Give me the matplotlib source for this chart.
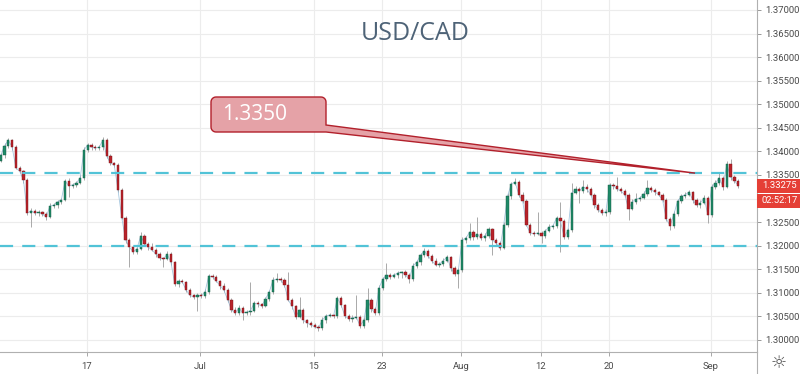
import numpy as np
import matplotlib
matplotlib.use('Agg')
import matplotlib.pyplot as plt
from matplotlib.patches import Polygon, Rectangle
from matplotlib.lines import Line2D
from matplotlib.transforms import Affine2D

# USD/CAD, 8h candles (Jun 5 - Sep 4 2019)
closes = [
    1.3392, 1.3412, 1.3424, 1.3409, 1.3365, 1.3358, 1.3339, 1.3269, 1.3274, 1.3269,
    1.3271, 1.3267, 1.3261, 1.3284, 1.3286, 1.3293, 1.3297, 1.3337, 1.3327, 1.3329,
    1.3333, 1.3344, 1.3403, 1.3414, 1.3409, 1.3407, 1.3409, 1.3424, 1.3390, 1.3375,
    1.3371, 1.3318, 1.3259, 1.3212, 1.3197, 1.3187, 1.3193, 1.3221, 1.3204, 1.3197,
    1.3191, 1.3182, 1.3174, 1.3172, 1.3182, 1.3165, 1.3119, 1.3125, 1.3123, 1.3106,
    1.3095, 1.3091, 1.3095, 1.3093, 1.3102, 1.3136, 1.3134, 1.3125, 1.3115, 1.3106,
    1.3085, 1.3064, 1.3057, 1.3068, 1.3057, 1.3059, 1.3062, 1.3078, 1.3076, 1.3072,
    1.3087, 1.3102, 1.3127, 1.3129, 1.3127, 1.3117, 1.3085, 1.3072, 1.3049, 1.3064,
    1.3042, 1.3036, 1.3032, 1.3028, 1.3025, 1.3042, 1.3051, 1.3053, 1.3051, 1.3089,
    1.3074, 1.3051, 1.3045, 1.3047, 1.3049, 1.3030, 1.3042, 1.3085, 1.3066, 1.3057,
    1.3110, 1.3129, 1.3138, 1.3134, 1.3138, 1.3142, 1.3144, 1.3138, 1.3129, 1.3157,
    1.3165, 1.3180, 1.3189, 1.3178, 1.3168, 1.3159, 1.3161, 1.3168, 1.3176, 1.3153,
    1.3140, 1.3148, 1.3212, 1.3216, 1.3229, 1.3218, 1.3225, 1.3216, 1.3221, 1.3235,
    1.3212, 1.3206, 1.3195, 1.3244, 1.3305, 1.3331, 1.3335, 1.3308, 1.3295, 1.3244,
    1.3227, 1.3225, 1.3227, 1.3221, 1.3231, 1.3240, 1.3242, 1.3259, 1.3252, 1.3218,
    1.3233, 1.3312, 1.3320, 1.3316, 1.3325, 1.3320, 1.3308, 1.3286, 1.3276, 1.3269,
    1.3272, 1.3329, 1.3327, 1.3320, 1.3316, 1.3308, 1.3278, 1.3293, 1.3299, 1.3301,
    1.3310, 1.3322, 1.3318, 1.3314, 1.3308, 1.3297, 1.3257, 1.3242, 1.3267, 1.3295,
    1.3305, 1.3308, 1.3314, 1.3297, 1.3286, 1.3291, 1.3301, 1.3265, 1.3325, 1.3333,
    1.3344, 1.3325, 1.3373, 1.3345, 1.3338, 1.33275,
]
first_open = 1.3380

# wick length above / below the body, in pips
up_pips = [
    4, 6, 5, 3, 4, 5, 3, 4, 6, 3,
    4, 3, 5, 6, 4, 3, 5, 4, 6, 3,
    4, 5, 6, 4, 3, 5, 4, 7, 5, 4,
    3, 4, 5, 3, 4, 3, 5, 8, 4, 3,
    8, 4, 5, 3, 6, 4, 3, 5, 4, 3,
    4, 3, 5, 4, 6, 5, 3, 4, 3, 5,
    4, 3, 5, 6, 4, 5, 60, 5, 4, 3,
    5, 4, 6, 13, 4, 5, 27, 4, 3, 27,
    4, 3, 5, 4, 3, 6, 4, 5, 3, 4,
    5, 3, 4, 5, 46, 4, 6, 25, 4, 5,
    6, 4, 25, 5, 4, 5, 3, 4, 5, 6,
    4, 5, 6, 3, 4, 5, 4, 6, 5, 3,
    4, 5, 6, 4, 19, 5, 36, 4, 6, 5,
    3, 4, 5, 6, 7, 5, 9, 4, 5, 3,
    4, 5, 45, 4, 5, 6, 4, 5, 34, 4,
    5, 21, 6, 4, 14, 5, 4, 3, 5, 4,
    6, 5, 4, 19, 5, 4, 3, 5, 13, 4,
    6, 17, 4, 5, 3, 4, 5, 4, 6, 5,
    4, 6, 5, 3, 4, 5, 6, 4, 5, 6,
    12, 4, 6, 11, 5, 3,
]
dn_pips = [
    3, 5, 4, 6, 3, 4, 5, 4, 29, 3,
    5, 4, 6, 3, 4, 5, 4, 3, 24, 5,
    4, 3, 5, 4, 6, 3, 4, 5, 3, 4,
    5, 4, 3, 6, 42, 4, 5, 3, 4, 6,
    3, 5, 4, 17, 3, 5, 4, 6, 3, 5,
    4, 5, 30, 4, 3, 5, 4, 3, 6, 4,
    5, 4, 3, 5, 15, 4, 6, 3, 5, 4,
    3, 5, 4, 3, 5, 4, 3, 6, 4, 3,
    5, 8, 4, 3, 5, 4, 6, 3, 5, 4,
    3, 5, 4, 6, 3, 4, 5, 3, 6, 4,
    5, 3, 4, 5, 3, 6, 10, 4, 8, 3,
    4, 6, 3, 5, 4, 3, 5, 4, 3, 6,
    5, 30, 4, 6, 3, 5, 4, 3, 5, 4,
    32, 4, 5, 3, 4, 6, 3, 5, 4, 3,
    5, 4, 3, 15, 4, 3, 5, 4, 65, 3,
    4, 5, 3, 25, 4, 6, 3, 5, 4, 3,
    5, 4, 6, 3, 4, 5, 24, 3, 4, 5,
    3, 4, 5, 6, 3, 4, 5, 9, 4, 3,
    5, 4, 3, 6, 4, 5, 3, 17, 4, 5,
    4, 6, 3, 5, 4, 5,
]

tick_dates = ['2019-06-17', '2019-07-01', '2019-07-15', '2019-07-23',
              '2019-08-01', '2019-08-12', '2019-08-20', '2019-09-02']
tick_labels = ['17', 'Jul', '15', '23', 'Aug', '12', '20', 'Sep']
levels = [1.3354, 1.3200]
callout_text = '1.3350'
callout_price = 1.3354
last_price = '1.33275'
countdown = '02:52:17'

# ---- build candles
closes = np.array(closes)
opens = np.r_[first_open, closes[:-1]]
highs = np.maximum(opens, closes) + np.array(up_pips) * 1e-4
lows = np.minimum(opens, closes) - np.array(dn_pips) * 1e-4

# x axis = trading days counted from Jun 17 (weekends skipped like TradingView)
bars_per_day = 3
t0 = np.busday_count('2019-06-17', '2019-06-05') + 0.4
t = t0 + np.arange(len(closes)) / bars_per_day
tick_pos = [np.busday_count('2019-06-17', d) for d in tick_dates]

W, H = 800, 374
fig = plt.figure(figsize=(W / 100, H / 100), dpi=100)
fig.patch.set_facecolor('white')
ax = fig.add_axes([0, 22 / H, 757 / W, 352 / H])
ax.set_xlim(-7.67, 59.06)
ax.set_ylim(1.29745, 1.37212)

up = closes >= opens
body_col = np.where(up, '#1f8a68', '#b8232a')
edge_col = np.where(up, '#15573f', '#7a1418')
ax.vlines(t, lows, highs, color='#a9a9a9', lw=0.7, zorder=2)
ax.plot(t, closes, color='#8fb9d8', lw=0.6, alpha=0.8, zorder=2.2)
ax.bar(t, np.maximum(np.abs(closes - opens), 0.00005), bottom=np.minimum(opens, closes),
       width=0.2, color=body_col, edgecolor=edge_col, lw=0.3, zorder=3)

for lvl in levels:
    ax.axhline(lvl, color='#52c3d7', lw=1.6, ls=(0, (5.9, 4.1)), zorder=4)

# axes styling; the 1.33000 label sits under the countdown box, so it is left blank
ax.set_yticks(np.round(np.arange(1.300, 1.3701, 0.005), 3))
ax.yaxis.set_major_formatter(matplotlib.ticker.FuncFormatter(
    lambda v, p: '' if abs(v - 1.33) < 1e-6 else '%.5f' % v))
ax.yaxis.tick_right()
ax.set_xticks(tick_pos)
ax.set_xticklabels(tick_labels)
ax.tick_params(axis='y', length=3, width=0.6, pad=3, color='#888888',
               labelsize=6.8, labelcolor='#4a4a4a')
ax.tick_params(axis='x', length=3, width=0.6, pad=4, color='#999999',
               labelsize=6.8, labelcolor='#4a4a4a')
for lab in ax.get_xticklabels() + ax.get_yticklabels():
    lab.set_family('Roboto')
ax.grid(color='#ececec', lw=0.8, zorder=0)
ax.set_axisbelow(True)
for side in ['top', 'left']:
    ax.spines[side].set_visible(False)
for side in ['right', 'bottom']:
    ax.spines[side].set_color('#b0b0b0')
    ax.spines[side].set_linewidth(0.8)
fig.add_artist(Line2D([757 / W, 757 / W], [0, 22 / H], color='#b0b0b0', lw=0.8))

fig.text(415 / W, 1 - 34 / H, 'USD/CAD', ha='center', va='center',
         fontsize=18, color='#4e6377', family='Open Sans')

# ---- callout (drawn in pixel space, top-left origin), tail points at the level
pix = Affine2D().scale(1, -1).translate(0, H)
tip = ax.transData.transform((np.busday_count('2019-06-17', '2019-08-29') + 0.6, callout_price))
tip = (tip[0], H - tip[1])
bx0, bx1, by0, by1, r = 211, 326, 97, 132, 5


def arc(cx, cy, a0, a1):
    a = np.radians(np.linspace(a0, a1, 8))
    return np.c_[cx + r * np.cos(a), cy - r * np.sin(a)]


pts = np.vstack([
    arc(bx0 + r, by0 + r, 180, 90),
    arc(bx1 - r, by0 + r, 90, 0),
    [[bx1, 125], tip, [bx1, by1]],
    arc(bx0 + r, by1 - r, 270, 180),
])
ax.add_patch(Polygon(pts, closed=True, fc='#e5a2a7', ec='#b2202b', lw=1.0,
                     transform=pix, clip_on=False, zorder=6))
ax.text(222, 114.5, callout_text, transform=pix, ha='left', va='center',
        fontsize=15, color='white', family='Open Sans', zorder=7)

# ---- right-hand price / countdown labels
yc = H - ax.transData.transform((0, closes[-1]))[1]
ax.add_patch(Rectangle((757, yc - 7), 43, 14, transform=pix, fc='#e53f36', ec='none',
                       clip_on=False, zorder=8))
ax.add_patch(Rectangle((757, yc + 8.5), 43, 13.5, transform=pix, fc='#e53f36', ec='none',
                       clip_on=False, zorder=8))
ax.text(780, yc, last_price, transform=pix, ha='center', va='center', fontsize=6.8,
        color='white', family='Roboto', zorder=9)
ax.text(780, yc + 15.3, countdown, transform=pix, ha='center', va='center', fontsize=6.8,
        color='white', family='Roboto', zorder=9)

fig.text(779 / W, 1 - 363 / H, '\u263c', ha='center', va='center', fontsize=13,
         color='#555555', family='DejaVu Sans')

fig.savefig('out.png', dpi=100)
